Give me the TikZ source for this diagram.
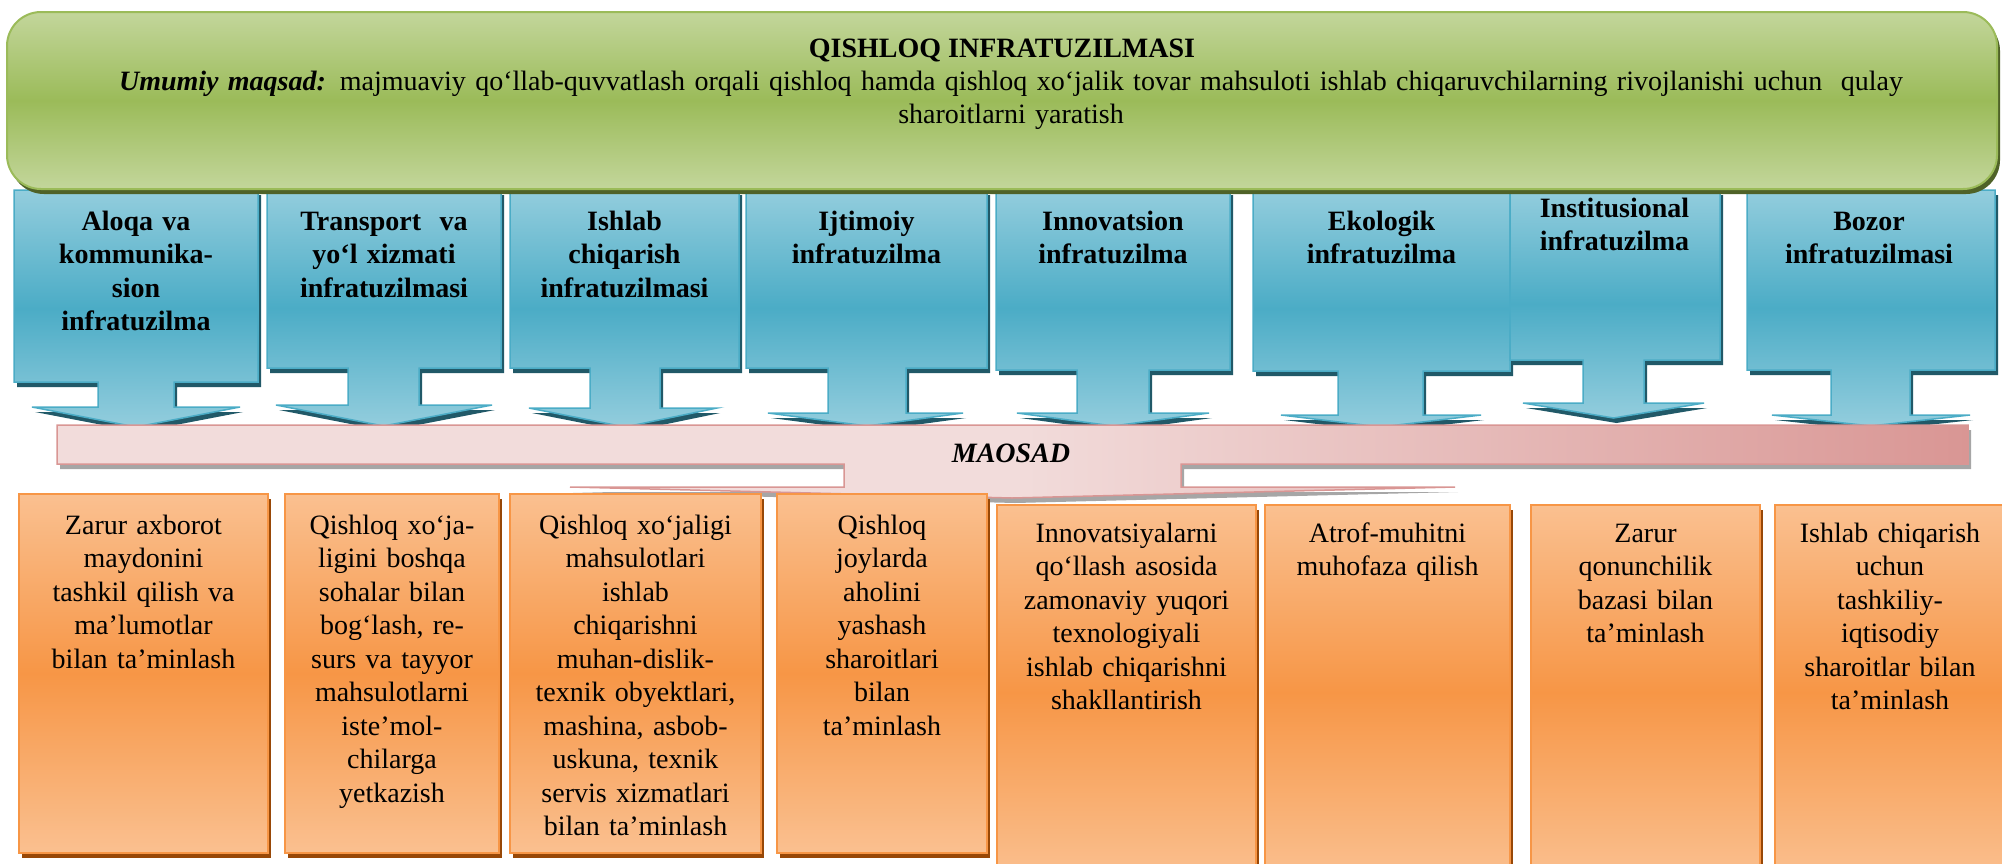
\documentclass[tikz,border=0pt]{standalone}
\usepackage{fontspec}
\setmainfont{Liberation Serif}
\definecolor{yashilOch}{HTML}{C3D69B}
\definecolor{yashil}{HTML}{9BBB59}
\definecolor{yashilSoya}{HTML}{4F6228}
\definecolor{kokOch}{HTML}{93CDDD}
\definecolor{kok}{HTML}{4BACC6}
\definecolor{kokSoya}{HTML}{215968}
\definecolor{pushtiOch}{HTML}{F2DCDB}
\definecolor{pushti}{HTML}{D99694}
\definecolor{kulrang}{HTML}{A6A6A6}
\definecolor{olovOch}{HTML}{FAC090}
\definecolor{olov}{HTML}{F79646}
\definecolor{olovSoya}{HTML}{984807}
\begin{document}
\begin{tikzpicture}[x=1pt,y=-1pt,
    soya/.style={preaction={fill=#1,transform canvas={xshift=3pt,yshift=-5pt}}},
    tepa/.style={soya=yashilSoya,top color=yashilOch,bottom color=yashilOch,middle color=yashil,draw=yashil,line width=2pt,rounded corners=34pt},
    infra/.style={soya=kokSoya,top color=kokOch,bottom color=kokOch,middle color=kok,draw=kok,line width=1.5pt},
    maqsad/.style={soya=kulrang,left color=pushtiOch,right color=pushti,middle color=pushtiOch,draw=pushti,line width=1.5pt},
    vazifa/.style={soya=olovSoya,top color=olovOch,bottom color=olovOch,middle color=olov,draw=olov,line width=2pt},
    matn/.style={font=\fontsize{28}{33.5}\selectfont,inner sep=0pt,align=center,anchor=base},
    qalin/.style={matn,font=\fontsize{28}{33.5}\selectfont\bfseries}]
    \useasboundingbox (0,0) rectangle (2002,863);
    \path[infra] (14,190) -- (258,190) -- (258,382) -- (174,382) -- (174,407) -- (240,407) -- (136,427) -- (32,407) -- (98,407) -- (98,382) -- (14,382) -- cycle;
    \path[infra] (267,190) -- (501,190) -- (501,368) -- (419,368) -- (419,405) -- (492,405) -- (383.5,426) -- (276,405) -- (348,405) -- (348,368) -- (267,368) -- cycle;
    \path[infra] (510,190) -- (739,190) -- (739,368) -- (660,368) -- (660,408) -- (717,408) -- (625,427) -- (529,408) -- (590,408) -- (590,368) -- (510,368) -- cycle;
    \path[infra] (746,190) -- (987,190) -- (987,368) -- (906,368) -- (906,413) -- (963,413) -- (867,426) -- (768,413) -- (828,413) -- (828,368) -- (746,368) -- cycle;
    \path[infra] (996,190) -- (1230,190) -- (1230,370) -- (1149,370) -- (1149,413) -- (1209,413) -- (1113,426) -- (1017,413) -- (1077,413) -- (1077,370) -- (996,370) -- cycle;
    \path[infra] (1253,190) -- (1510,190) -- (1510,371) -- (1423,371) -- (1423,415) -- (1481,415) -- (1380.5,427) -- (1281,415) -- (1338,415) -- (1338,371) -- (1253,371) -- cycle;
    \path[infra] (1510,190) -- (1720,190) -- (1720,360) -- (1644,360) -- (1644,403) -- (1704,403) -- (1613.5,418) -- (1523,403) -- (1583,403) -- (1583,360) -- (1510,360) -- cycle;
    \path[infra] (1747,190) -- (1995,190) -- (1995,370) -- (1910,370) -- (1910,415) -- (1970,415) -- (1870.5,426) -- (1772,415) -- (1831,415) -- (1831,370) -- (1747,370) -- cycle;
    \path[tepa] (7,12) rectangle (1997,189);
    \node[qalin] (title) at (1002,57) {QISHLOQ INFRATUZILMASI};
    \node[matn,text width=1960pt] (aim) at (1011,90) {\textbf{\textit{Umumiy maqsad:}} majmuaviy qo‘llab-quvvatlash orqali qishloq hamda qishloq xo‘jalik tovar mahsuloti ishlab chiqaruvchilarning rivojlanishi uchun\ \ qulay\\sharoitlarni yaratish};
    \node[qalin,text width=240pt] (b1) at (136,230) {Aloqa va\\kommunika-\\sion\\infratuzilma};
    \node[qalin,text width=230pt] (b2) at (384,230) {Transport\ \ va\\yo‘l xizmati\\infratuzilmasi};
    \node[qalin,text width=225pt] (b3) at (624.5,230) {Ishlab\\chiqarish\\infratuzilmasi};
    \node[qalin,text width=235pt] (b4) at (866.5,230) {Ijtimoiy\\infratuzilma};
    \node[qalin,text width=230pt] (b5) at (1113,230) {Innovatsion\\infratuzilma};
    \node[qalin,text width=250pt] (b6) at (1381.5,230) {Ekologik\\infratuzilma};
    \node[qalin,text width=205pt] (b7) at (1614.5,217) {Institusional\\infratuzilma};
    \node[qalin,text width=245pt] (b8) at (1869,230) {Bozor\\infratuzilmasi};
    \path[maqsad] (57,425) -- (1968,425) -- (1968,464) -- (1181,464) -- (1181,487) -- (1455,487) -- (1012,498) -- (570,487) -- (844,487) -- (844,464) -- (57,464) -- cycle;
    \node[matn,font=\fontsize{28}{33.5}\selectfont\bfseries\itshape] (maosad) at (1011,462) {MAOSAD};
    \path[vazifa] (19,494) rectangle (268,853);
    \path[vazifa] (285,494) rectangle (499,853);
    \path[vazifa] (510,494) rectangle (761,853);
    \path[vazifa] (777,494) rectangle (987,853);
    \path[vazifa] (997,505) rectangle (1256,880);
    \path[vazifa] (1265,505) rectangle (1510,880);
    \path[vazifa] (1531,505) rectangle (1760,880);
    \path[vazifa] (1775,505) rectangle (2008,880);
    \node[matn,text width=240pt] (v1) at (143.5,534) {Zarur axborot\\maydonini\\tashkil qilish va\\ma’lumotlar\\bilan ta’minlash};
    \node[matn,text width=205pt] (v2) at (392,534) {Qishloq xo‘ja-\\ligini boshqa\\sohalar bilan\\bog‘lash, re-\\surs va tayyor\\mahsulotlarni\\iste’mol-\\chilarga\\yetkazish};
    \node[matn,text width=240pt] (v3) at (635.5,534) {Qishloq xo‘jaligi\\mahsulotlari\\ishlab\\chiqarishni\\muhan-dislik-\\texnik obyektlari,\\mashina, asbob-\\uskuna, texnik\\servis xizmatlari\\bilan ta’minlash};
    \node[matn,text width=200pt] (v4) at (882,534) {Qishloq\\joylarda\\aholini\\yashash\\sharoitlari\\bilan\\ta’minlash};
    \node[matn,text width=250pt] (v5) at (1126.5,542) {Innovatsiyalarni\\qo‘llash asosida\\zamonaviy yuqori\\texnologiyali\\ishlab chiqarishni\\shakllantirish};
    \node[matn,text width=235pt] (v6) at (1387.5,542) {Atrof-muhitni\\muhofaza qilish};
    \node[matn,text width=220pt] (v7) at (1645.5,542) {Zarur\\qonunchilik\\bazasi bilan\\ta’minlash};
    \node[matn,text width=220pt] (v8) at (1890,542) {Ishlab chiqarish\\uchun\\tashkiliy-\\iqtisodiy\\sharoitlar bilan\\ta’minlash};
\end{tikzpicture}
\end{document}
